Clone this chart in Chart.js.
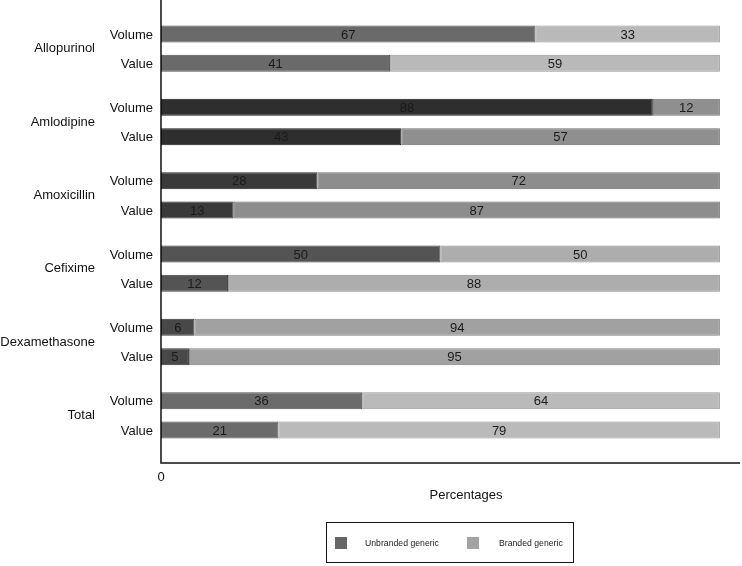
<!DOCTYPE html>
<html>
<head>
<meta charset="utf-8">
<script src="https://cdn.jsdelivr.net/npm/chart.js@4.4.1/dist/chart.umd.min.js"></script>
<style>
  body { margin: 0; background: #fff; }
  #wrap { position: relative; width: 742px; height: 566px; }
  #legenda {
    position: absolute; left: 326px; top: 522px; width: 246px; height: 39px;
    border: 1.5px solid #111; font-family: "Liberation Sans", Arial, sans-serif;
    font-size: 8.7px; color: #222;
  }
  #legenda .sq { position: absolute; top: 14px; width: 12px; height: 12px; }
  #legenda .tx { position: absolute; top: 15px; }
</style>
</head>
<body>
<div id="wrap">
  <canvas id="chartBarras" width="742" height="566"></canvas>
  <div id="legenda">
    <div class="sq" style="left:8px;background:#666666"></div>
    <div class="tx" style="left:38px">Unbranded generic</div>
    <div class="sq" style="left:140px;background:#a2a2a2"></div>
    <div class="tx" style="left:172px">Branded generic</div>
  </div>
</div>
<script>
var medicamentos = ['Allopurinol', 'Amlodipine', 'Amoxicillin', 'Cefixime', 'Dexamethasone', 'Total'];
var medidas = ['Volume', 'Value'];

var unbrandedVolume = [67, 88, 28, 50, 6, 36];
var brandedVolume = [33, 12, 72, 50, 94, 64];
var unbrandedValue = [41, 43, 13, 12, 5, 21];
var brandedValue = [59, 57, 87, 88, 95, 79];

var xTicks = [0];

// cores de cada grupo (cinzas diferentes)
var corUnbranded = ['#6a6a6a', '#2e2e2e', '#3a3a3a', '#545454', '#484848', '#6b6b6b'];
var corBranded = ['#b9b9b9', '#8f8f8f', '#8d8d8d', '#adadad', '#a1a1a1', '#bababa'];
var bordaUnbranded = ['#4f4f4f', '#1a1a1a', '#262626', '#3e3e3e', '#333333', '#525252'];
var bordaBranded = ['#949494', '#6c6c6c', '#6a6a6a', '#8a8a8a', '#7f7f7f', '#979797'];

var fonte = '"Liberation Sans", Arial, sans-serif';

var rotulosPlugin = {
    id: 'rotulos',
    afterDatasetsDraw: function (chart) {
        var ctx = chart.ctx;
        var area = chart.chartArea;
        ctx.save();
        ctx.font = '13px ' + fonte;
        ctx.fillStyle = '#1a1a1a';
        ctx.textAlign = 'center';
        ctx.textBaseline = 'middle';
        chart.data.datasets.forEach(function (ds, i) {
            var meta = chart.getDatasetMeta(i);
            meta.data.forEach(function (barra, j) {
                var p = barra.getProps(['x', 'y', 'base'], true);
                ctx.fillText(String(ds.data[j]), (p.x + p.base) / 2, p.y + 1);
            });
        });
        // Volume / Value
        ctx.textAlign = 'right';
        ctx.fillStyle = '#111';
        [0, 2].forEach(function (i, k) {
            var meta = chart.getDatasetMeta(i);
            meta.data.forEach(function (barra) {
                ctx.fillText(medidas[k], area.left - 8, barra.y + 1);
            });
        });
        // eixos
        var baseY = area.bottom + 11;
        ctx.strokeStyle = '#111';
        ctx.lineWidth = 1.5;
        ctx.beginPath();
        ctx.moveTo(area.left, 0);
        ctx.lineTo(area.left, baseY);
        ctx.lineTo(chart.width - 2, baseY);
        ctx.stroke();
        // titulo do eixo
        ctx.textAlign = 'center';
        ctx.font = '13px ' + fonte;
        ctx.fillText('Percentages', 466, 495);
        ctx.restore();
    }
};

function dataset(label, dados, cores, bordas, pilha) {
    return {
        label: label,
        data: dados,
        backgroundColor: cores,
        borderColor: bordas,
        borderWidth: 1,
        borderSkipped: false,
        stack: pilha,
        categoryPercentage: 0.8,
        barPercentage: 0.58
    };
}

var graficoBarras = new Chart(document.getElementById('chartBarras'), {
    type: 'bar',
    data: {
        labels: medicamentos,
        datasets: [
            dataset('Unbranded generic', unbrandedVolume, corUnbranded, bordaUnbranded, 'Volume'),
            dataset('Branded generic', brandedVolume, corBranded, bordaBranded, 'Volume'),
            dataset('Unbranded generic', unbrandedValue, corUnbranded, bordaUnbranded, 'Value'),
            dataset('Branded generic', brandedValue, corBranded, bordaBranded, 'Value')
        ]
    },
    options: {
        indexAxis: 'y',
        responsive: false,
        animation: false,
        layout: { padding: { top: 12, right: 2 } },
        scales: {
            x: {
                stacked: true,
                min: 0,
                max: 103.6,
                grid: { display: false },
                border: { display: false },
                afterBuildTicks: function (scale) {
                    scale.ticks = xTicks.map(function (v) { return { value: v }; });
                },
                ticks: { padding: 10, color: '#111', font: { family: fonte, size: 13 } },
                afterFit: function (scale) { scale.height = 114; }
            },
            y: {
                stacked: true,
                grid: { display: false, drawTicks: false },
                border: { display: false },
                ticks: { padding: 66, color: '#111', font: { family: fonte, size: 13 } },
                afterFit: function (scale) {
                    scale.width = 161;
                    scale.paddingTop = 0;
                    scale.paddingBottom = 0;
                }
            }
        },
        plugins: {
            legend: { display: false },
            tooltip: { enabled: false }
        }
    },
    plugins: [rotulosPlugin]
});
</script>
</body>
</html>
